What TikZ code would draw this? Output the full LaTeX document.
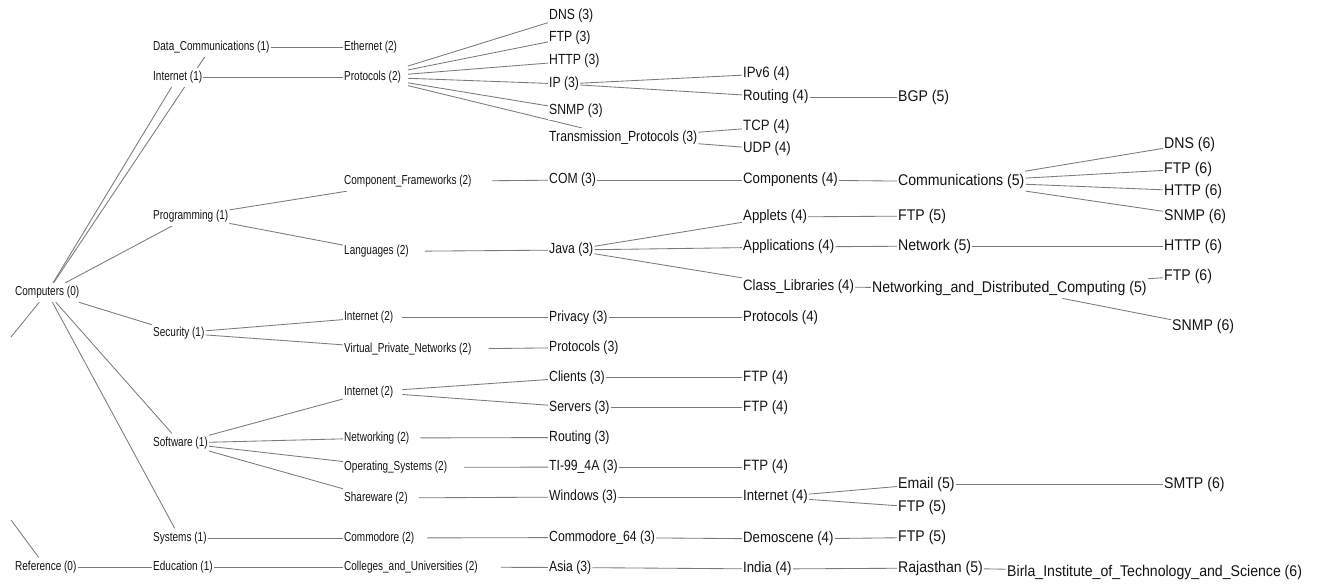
\documentclass[tikz,border=0pt]{standalone}
\usepackage{fontspec}
\newfontfamily\smallfam[FakeStretch=0.77]{Liberation Sans}
\newfontfamily\threefam[FakeStretch=0.83]{Liberation Sans}
\newfontfamily\fourfam[FakeStretch=0.88]{Liberation Sans}
\newfontfamily\fivefam[FakeStretch=0.91]{Liberation Sans}
\usetikzlibrary{backgrounds}
\tikzset{
  lbl/.style={anchor=west, fill=white, inner xsep=1pt, inner ysep=3pt, text=black!92},
  lsmall/.style={lbl, font=\smallfam\fontsize{13}{15}\selectfont, minimum height=19pt},
  lthree/.style={lbl, font=\threefam\fontsize{14.7}{17}\selectfont},
  lfour/.style={lbl, font=\fourfam\fontsize{15}{18}\selectfont},
  lfive/.style={lbl, font=\fivefam\fontsize{15.5}{18}\selectfont},
  link/.style={draw=black!52, line width=0.85pt},
}
\begin{document}
\begin{tikzpicture}[x=1pt,y=-1pt]
        \useasboundingbox (0,0) rectangle (1317,584);

        % level 0
        \node (comp) [lsmall] at (14,292.5) {Computers (0)};
        \node (ref) [lsmall] at (14,567) {Reference (0)};
        \coordinate (compoff) at (11,337);
        \coordinate (refoff) at (11,520);

        % level 1
        \node (datacom) [lsmall] at (152,47) {Data\_Communications (1)};
        \node (inet1) [lsmall] at (152,77) {Internet (1)};
        \node (prog) [lsmall] at (152,216) {Programming (1)};
        \node (sec) [lsmall] at (152,333) {Security (1)};
        \node (soft) [lsmall] at (152,443) {Software (1)};
        \node (sys) [lsmall] at (152,538) {Systems (1)};
        \node (edu) [lsmall] at (152,567) {Education (1)};

        % level 2
        \node (eth) [lsmall] at (343,47) {Ethernet (2)};
        \node (proto2) [lsmall] at (343,77) {Protocols (2)};
        \node (compfw) [lsmall] at (343,181.5) {Component\_Frameworks (2)};
        \node (lang) [lsmall] at (343,251.5) {Languages (2)};
        \node (secinet) [lsmall] at (343,317.5) {Internet (2)};
        \node (vpn) [lsmall] at (343,349.5) {Virtual\_Private\_Networks (2)};
        \node (softinet) [lsmall] at (343,392) {Internet (2)};
        \node (netw) [lsmall] at (343,438) {Networking (2)};
        \node (opsys) [lsmall] at (343,467.5) {Operating\_Systems (2)};
        \node (share) [lsmall] at (343,498) {Shareware (2)};
        \node (commo) [lsmall] at (343,538) {Commodore (2)};
        \node (colleges) [lsmall] at (343,567) {Colleges\_and\_Universities (2)};

        % level 3
        \node (dns3) [lthree] at (548,15.5) {DNS (3)};
        \node (ftp3) [lthree] at (548,37.5) {FTP (3)};
        \node (http3) [lthree] at (548,61) {HTTP (3)};
        \node (ip3) [lthree] at (548,84) {IP (3)};
        \node (snmp3) [lthree] at (548,110.5) {SNMP (3)};
        \node (trans3) [lthree] at (548,138) {Transmission\_Protocols (3)};
        \node (com3) [lthree] at (548,180) {COM (3)};
        \node (java3) [lthree] at (548,250) {Java (3)};
        \node (priv3) [lthree] at (548,317.5) {Privacy (3)};
        \node (proto3) [lthree] at (548,347.5) {Protocols (3)};
        \node (clients3) [lthree] at (548,377.5) {Clients (3)};
        \node (servers3) [lthree] at (548,407.5) {Servers (3)};
        \node (routing3) [lthree] at (548,437.5) {Routing (3)};
        \node (ti3) [lthree] at (548,467) {TI-99\_4A (3)};
        \node (win3) [lthree] at (548,497) {Windows (3)};
        \node (c64) [lthree] at (548,537.5) {Commodore\_64 (3)};
        \node (asia3) [lthree] at (548,567.5) {Asia (3)};

        % level 4
        \node (ipv6) [lfour] at (742,74) {IPv6 (4)};
        \node (routing4) [lfour] at (742,97) {Routing (4)};
        \node (tcp4) [lfour] at (742,127) {TCP (4)};
        \node (udp4) [lfour] at (742,149) {UDP (4)};
        \node (components4) [lfour] at (742,180) {Components (4)};
        \node (applets4) [lfour] at (742,217) {Applets (4)};
        \node (apps4) [lfour] at (742,247) {Applications (4)};
        \node (classlib4) [lfour] at (742,287) {Class\_Libraries (4)};
        \node (proto4) [lfour] at (742,317.5) {Protocols (4)};
        \node (ftp4a) [lfour] at (742,377.5) {FTP (4)};
        \node (ftp4b) [lfour] at (742,407.5) {FTP (4)};
        \node (ftp4c) [lfour] at (742,467) {FTP (4)};
        \node (inet4) [lfour] at (742,497) {Internet (4)};
        \node (demo4) [lfour] at (742,539) {Demoscene (4)};
        \node (india4) [lfour] at (742,569) {India (4)};

        % level 5
        \node (bgp5) [lfive] at (897,97) {BGP (5)};
        \node (commu5) [lfive] at (897,181.7) {Communications (5)};
        \node (ftp5a) [lfive] at (897,216) {FTP (5)};
        \node (network5) [lfive] at (897,246) {Network (5)};
        \node (ndc5) [lfive] at (871,288) {Networking\_and\_Distributed\_Computing (5)};
        \node (email5) [lfive] at (897,484) {Email (5)};
        \node (ftp5b) [lfive] at (897,507.5) {FTP (5)};
        \node (ftp5c) [lfive] at (897,537.5) {FTP (5)};
        \node (raj5) [lfive] at (897,568) {Rajasthan (5)};

        % level 6
        \node (dns6) [lfive] at (1163,144) {DNS (6)};
        \node (ftp6a) [lfive] at (1163,169) {FTP (6)};
        \node (http6a) [lfive] at (1163,191) {HTTP (6)};
        \node (snmp6a) [lfive] at (1163,216) {SNMP (6)};
        \node (http6b) [lfive] at (1163,246) {HTTP (6)};
        \node (ftp6b) [lfive] at (1163,276) {FTP (6)};
        \node (snmp6b) [lfive] at (1171,326) {SNMP (6)};
        \node (smtp6) [lfive] at (1163,484) {SMTP (6)};
        \node (birla6) [lfive] at (1006,572) {Birla\_Institute\_of\_Technology\_and\_Science (6)};

        \begin{scope}[on background layer]
        \fill[white] (0,0) rectangle (1317,584);

        \draw[link] (comp) -- (datacom);
        \draw[link] (comp) -- (inet1);
        \draw[link] (comp) -- (prog);
        \draw[link] (comp) -- (sec);
        \draw[link] (comp) -- (soft);
        \draw[link] (comp) -- (sys);
        \draw[link] (comp) -- (compoff);
        \draw[link] (ref) -- (edu);
        \draw[link] (ref) -- (refoff);

        \draw[link] (datacom) -- (eth);
        \draw[link] (inet1) -- (proto2);
        \draw[link] (prog) -- (compfw);
        \draw[link] (prog) -- (lang);
        \draw[link] (sec) -- (secinet);
        \draw[link] (sec) -- (vpn);
        \draw[link] (soft) -- (softinet);
        \draw[link] (soft) -- (netw);
        \draw[link] (soft) -- (opsys);
        \draw[link] (soft) -- (share);
        \draw[link] (sys) -- (commo);
        \draw[link] (edu) -- (colleges);

        \draw[link, shorten <=6pt] (proto2) -- (dns3);
        \draw[link, shorten <=6pt] (proto2) -- (ftp3);
        \draw[link, shorten <=6pt] (proto2) -- (http3);
        \draw[link, shorten <=6pt] (proto2) -- (ip3);
        \draw[link, shorten <=6pt] (proto2) -- (snmp3);
        \draw[link, shorten <=6pt] (proto2) -- (trans3);
        \draw[link, shorten <=19pt] (compfw) -- (com3);
        \draw[link, shorten <=15pt] (lang) -- (java3);
        \draw[link, shorten <=8pt] (secinet) -- (priv3);
        \draw[link, shorten <=16pt] (vpn) -- (proto3);
        \draw[link, shorten <=8pt] (softinet) -- (clients3);
        \draw[link, shorten <=8pt] (softinet) -- (servers3);
        \draw[link, shorten <=10pt] (netw) -- (routing3);
        \draw[link, shorten <=16pt] (opsys) -- (ti3);
        \draw[link, shorten <=10pt] (share) -- (win3);
        \draw[link, shorten <=12pt] (commo) -- (c64);
        \draw[link, shorten <=22pt] (colleges) -- (asia3);

        \draw[link] (ip3) -- (ipv6);
        \draw[link] (ip3) -- (routing4);
        \draw[link] (trans3) -- (tcp4);
        \draw[link] (trans3) -- (udp4);
        \draw[link] (com3) -- (components4);
        \draw[link] (java3) -- (applets4);
        \draw[link] (java3) -- (apps4);
        \draw[link] (java3) -- (classlib4);
        \draw[link] (priv3) -- (proto4);
        \draw[link] (clients3) -- (ftp4a);
        \draw[link] (servers3) -- (ftp4b);
        \draw[link] (ti3) -- (ftp4c);
        \draw[link] (win3) -- (inet4);
        \draw[link] (c64) -- (demo4);
        \draw[link] (asia3) -- (india4);

        \draw[link] (routing4) -- (bgp5);
        \draw[link] (components4) -- (commu5);
        \draw[link] (applets4) -- (ftp5a);
        \draw[link] (apps4) -- (network5);
        \draw[link] (classlib4) -- (ndc5);
        \draw[link] (inet4) -- (email5);
        \draw[link] (inet4) -- (ftp5b);
        \draw[link] (demo4) -- (ftp5c);
        \draw[link] (india4) -- (raj5);

        \draw[link] (commu5) -- (dns6);
        \draw[link] (commu5) -- (ftp6a);
        \draw[link] (commu5) -- (http6a);
        \draw[link] (commu5) -- (snmp6a);
        \draw[link] (network5) -- (http6b);
        \draw[link] (ndc5) -- (ftp6b);
        \draw[link] (ndc5) -- (snmp6b);
        \draw[link] (email5) -- (smtp6);
        \draw[link] (raj5) -- (birla6);
        \end{scope}
    \end{tikzpicture}
\end{document}
